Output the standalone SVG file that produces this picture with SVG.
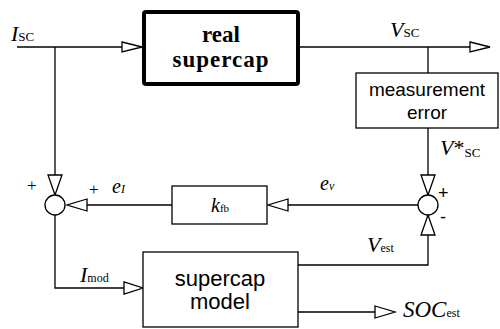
<svg xmlns="http://www.w3.org/2000/svg" width="500" height="329" viewBox="0 0 500 329">
<style>
.ln{fill:none;stroke:#000;stroke-width:1.3}
.ar{fill:#fff;stroke:#000;stroke-width:1.3;stroke-linejoin:miter}
.bx{fill:#fff;stroke:#000;stroke-width:1.3}
.sym{font-family:"Liberation Serif",serif;font-style:italic;fill:#000}
.sub{font-family:"Liberation Serif",serif;font-style:normal;fill:#000}
.sans{font-family:"Liberation Sans",Arial,sans-serif;fill:#000}
</style>
<rect width="500" height="329" fill="#fff"/>
<g id="connectors">
  <path class="ln" d="M17,47 H122"/>
  <polygon class="ar" points="122,42 142,47 122,52"/>
  <path class="ln" d="M300,47 H470"/>
  <polygon class="ar" points="470,42 490,47 470,52"/>
  <path class="ln" d="M55,47 V175"/>
  <polygon class="ar" points="48,175 62,175 55,195"/>
  <path class="ln" d="M428,47 V73"/>
  <path class="ln" d="M428,128 V175"/>
  <polygon class="ar" points="421,175 435,175 428,195"/>
  <path class="ln" d="M418,205 H288"/>
  <polygon class="ar" points="288,199 288,211 268,205"/>
  <path class="ln" d="M172,205 H87"/>
  <polygon class="ar" points="87,199 87,211 67,205"/>
  <path class="ln" d="M55,215 V288 H124"/>
  <polygon class="ar" points="124,282 124,294 143,288"/>
  <path class="ln" d="M298,265 H428 V235"/>
  <polygon class="ar" points="421,235 435,235 428,215"/>
  <path class="ln" d="M298,312 H375"/>
  <polygon class="ar" points="375,306 375,318 395,312"/>
</g>
<g id="real-supercap">
  <rect x="144" y="12" width="154" height="72" rx="2" fill="#fff" stroke="#000" stroke-width="4"/>
  <text x="221" y="42" text-anchor="middle" font-family="Liberation Serif,serif" font-weight="bold" font-size="23">real</text>
  <text x="221" y="67" text-anchor="middle" font-family="Liberation Serif,serif" font-weight="bold" font-size="23" letter-spacing="1">supercap</text>
</g>
<g id="measurement-error">
  <rect class="bx" x="356" y="73" width="142" height="55"/>
  <text class="sans" x="427" y="96" text-anchor="middle" font-size="19">measurement</text>
  <text class="sans" x="427" y="119" text-anchor="middle" font-size="19">error</text>
</g>
<g id="sum-left">
  <circle class="bx" cx="55" cy="205" r="10"/>
</g>
<g id="sum-right">
  <circle class="bx" cx="428" cy="205" r="10"/>
</g>
<g id="kfb">
  <rect class="bx" x="172" y="186" width="95" height="38"/>
  <text class="sym" x="211" y="212" font-size="20">k<tspan class="sub" font-size="11">fb</tspan></text>
</g>
<g id="supercap-model">
  <rect class="bx" x="143" y="252" width="155" height="75"/>
  <text class="sans" x="220" y="286" text-anchor="middle" font-size="22">supercap</text>
  <text class="sans" x="220" y="309" text-anchor="middle" font-size="22">model</text>
</g>
<g id="labels">
  <text class="sym" x="11" y="41" font-size="22">I<tspan class="sub" font-size="13">SC</tspan></text>
  <text class="sym" x="390" y="37" font-size="22">V<tspan class="sub" font-size="13">SC</tspan></text>
  <text class="sym" x="440" y="155" font-size="22">V<tspan class="sub" font-size="22">*</tspan><tspan class="sub" font-size="13" dy="2">SC</tspan></text>
  <text class="sub" x="27" y="191" font-size="17">+</text>
  <text class="sub" x="89" y="195" font-size="17">+</text>
  <text class="sym" x="112" y="193" font-size="20">e<tspan font-size="12">I</tspan></text>
  <text class="sym" x="320" y="190" font-size="20">e<tspan font-size="12">v</tspan></text>
  <text class="sans" x="438" y="199" font-size="18">+</text>
  <text class="sans" x="440" y="223" font-size="18">-</text>
  <text class="sym" x="367" y="252" font-size="22">V<tspan class="sub" font-size="12">est</tspan></text>
  <text class="sym" x="80" y="282" font-size="22">I<tspan class="sub" font-size="12">mod</tspan></text>
  <text class="sym" x="403" y="317" font-size="23">SOC<tspan class="sub" font-size="12">est</tspan></text>
</g>
</svg>
